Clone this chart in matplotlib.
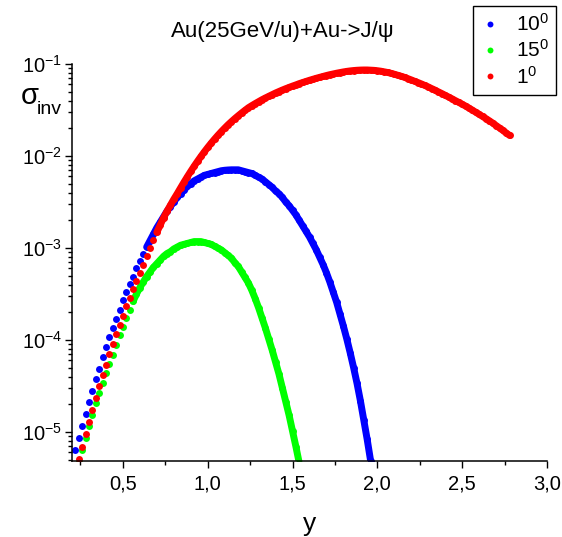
import matplotlib.pyplot as plt
import numpy as np
from matplotlib.ticker import FixedLocator, FuncFormatter, LogLocator, NullFormatter

plt.rcParams["font.family"] = ["Liberation Sans", "DejaVu Sans"]
plt.rcParams["mathtext.fontset"] = "custom"
plt.rcParams["mathtext.rm"] = "Liberation Sans"
plt.rcParams["mathtext.it"] = "Liberation Sans:italic"
plt.rcParams["mathtext.bf"] = "Liberation Sans:bold"

# rapidity grid (step 0.02) shared by the three series
rapidity = [
    0.22, 0.24, 0.26, 0.28, 0.30, 0.32, 0.34, 0.36, 0.38, 0.40,
    0.42, 0.44, 0.46, 0.48, 0.50, 0.52, 0.54, 0.56, 0.58, 0.60,
    0.62, 0.64, 0.66, 0.68, 0.70, 0.72, 0.74, 0.76, 0.78, 0.80,
    0.82, 0.84, 0.86, 0.88, 0.90, 0.92, 0.94, 0.96, 0.98, 1.00,
    1.02, 1.04, 1.06, 1.08, 1.10, 1.12, 1.14, 1.16, 1.18, 1.20,
    1.22, 1.24, 1.26, 1.28, 1.30, 1.32, 1.34, 1.36, 1.38, 1.40,
    1.42, 1.44, 1.46, 1.48, 1.50, 1.52, 1.54, 1.56, 1.58, 1.60,
    1.62, 1.64, 1.66, 1.68, 1.70, 1.72, 1.74, 1.76, 1.78, 1.80,
    1.82, 1.84, 1.86, 1.88, 1.90, 1.92, 1.94, 1.96, 1.98, 2.00,
    2.02, 2.04, 2.06, 2.08, 2.10, 2.12, 2.14, 2.16, 2.18, 2.20,
    2.22, 2.24, 2.26, 2.28, 2.30, 2.32, 2.34, 2.36, 2.38, 2.40,
    2.42, 2.44, 2.46, 2.48, 2.50, 2.52, 2.54, 2.56, 2.58, 2.60,
    2.62, 2.64, 2.66, 2.68, 2.70, 2.72, 2.74, 2.76, 2.78,
]

# log10(sigma_inv), 10 deg: y = 0.22 ... 1.98
log_sigma_10 = [
    -5.20, -5.07, -4.93, -4.80, -4.67, -4.55, -4.42, -4.31, -4.19, -4.08,
    -3.97, -3.87, -3.77, -3.67, -3.57, -3.48, -3.39, -3.31, -3.22, -3.14,
    -3.06, -2.99, -2.92, -2.85, -2.78, -2.72, -2.66, -2.60, -2.55, -2.50,
    -2.45, -2.41, -2.37, -2.33, -2.30, -2.27, -2.25, -2.23, -2.21, -2.20,
    -2.19, -2.18, -2.17, -2.16, -2.155, -2.152, -2.15, -2.15, -2.15, -2.16,
    -2.17, -2.18, -2.19, -2.21, -2.23, -2.25, -2.28, -2.31, -2.34, -2.38,
    -2.41, -2.45, -2.50, -2.54, -2.59, -2.64, -2.70, -2.76, -2.82, -2.88,
    -2.95, -3.02, -3.10, -3.18, -3.27, -3.37, -3.48, -3.59, -3.72, -3.85,
    -3.99, -4.14, -4.30, -4.47, -4.66, -4.87, -5.08, -5.31, -5.55,
]

# 15 deg: y = 0.24 ... 1.54
log_sigma_15 = [
    -5.33, -5.20, -5.06, -4.94, -4.81, -4.69, -4.58, -4.47, -4.36, -4.26,
    -4.16, -4.05, -3.95, -3.86, -3.76, -3.67, -3.58, -3.50, -3.43, -3.37,
    -3.31, -3.26, -3.21, -3.17, -3.13, -3.09, -3.06, -3.04, -3.01, -2.99,
    -2.97, -2.96, -2.95, -2.94, -2.93, -2.93, -2.93, -2.94, -2.95, -2.96,
    -2.98, -3.00, -3.02, -3.05, -3.08, -3.11, -3.16, -3.20, -3.26, -3.32,
    -3.38, -3.46, -3.55, -3.65, -3.76, -3.87, -3.99, -4.11, -4.24, -4.37,
    -4.52, -4.67, -4.82, -4.99, -5.16, -5.34,
]

# 1 deg: y = 0.24 ... 2.78
log_sigma_1 = [
    -5.29, -5.16, -5.02, -4.89, -4.76, -4.63, -4.505, -4.385, -4.27, -4.15,
    -4.04, -3.935, -3.835, -3.735, -3.635, -3.54, -3.45, -3.36, -3.27, -3.18,
    -3.09, -3.00, -2.915, -2.83, -2.75, -2.67, -2.60, -2.535, -2.47, -2.41,
    -2.347, -2.285, -2.225, -2.167, -2.111, -2.057, -2.005, -1.955, -1.907, -1.861,
    -1.817, -1.775, -1.735, -1.697, -1.660, -1.626, -1.593, -1.562, -1.532, -1.503,
    -1.475, -1.452, -1.430, -1.409, -1.388, -1.369, -1.351, -1.333, -1.315, -1.299,
    -1.283, -1.268, -1.254, -1.240, -1.227, -1.213, -1.201, -1.189, -1.177, -1.166,
    -1.155, -1.145, -1.135, -1.125, -1.116, -1.108, -1.100, -1.093, -1.086, -1.080,
    -1.075, -1.071, -1.068, -1.066, -1.065, -1.065, -1.067, -1.069, -1.073, -1.078,
    -1.085, -1.092, -1.101, -1.111, -1.122, -1.133, -1.145, -1.159, -1.173, -1.188,
    -1.202, -1.217, -1.233, -1.249, -1.267, -1.284, -1.303, -1.321, -1.340, -1.359,
    -1.378, -1.398, -1.417, -1.437, -1.457, -1.479, -1.501, -1.524, -1.547, -1.570,
    -1.593, -1.617, -1.642, -1.669, -1.695, -1.722, -1.750, -1.777,
]

# label, index of first grid point, values, colour, rapidity where the dots merge
series = [
    (r"$\mathregular{10^0}$", 0, log_sigma_10, "#0000ff", 0.64),
    (r"$\mathregular{15^0}$", 1, log_sigma_15, "#00ff00", 0.56),
    (r"$\mathregular{1^0}$", 1, log_sigma_1, "#ff0000", 0.70),
]

x_major = [0.5, 1.0, 1.5, 2.0, 2.5, 3.0]
x_minor = [0.25, 0.75, 1.25, 1.75, 2.25, 2.75]

W, H = 562, 537
fig = plt.figure(figsize=(W / 100, H / 100), dpi=100)
ax = fig.add_axes([72 / W, 1 - 461 / H, (547 - 72) / W, (461 - 64) / H])

for label, start, logs, color, merge in series:
    xs = np.array(rapidity[start:start + len(logs)])
    ys = 10 ** np.array(logs)
    dense = xs >= merge
    ax.plot(xs[dense], ys[dense], "-", color=color, lw=5.0, solid_capstyle="round")
    ax.plot(xs, ys, "o", color=color, ms=5.0, mew=0, label=label)

ax.set_yscale("log")
ax.set_xlim(0.2, 3.0)
ax.set_ylim(10 ** -5.315, 0.1)

ax.xaxis.set_major_locator(FixedLocator(x_major))
ax.xaxis.set_minor_locator(FixedLocator(x_minor))
ax.xaxis.set_major_formatter(FuncFormatter(lambda v, _: f"{v:.1f}".replace(".", ",")))
ax.yaxis.set_major_locator(LogLocator(base=10, numticks=10))
ax.yaxis.set_minor_locator(LogLocator(base=10, subs=np.arange(2, 10), numticks=20))
ax.yaxis.set_minor_formatter(NullFormatter())

for side in ["top", "right"]:
    ax.spines[side].set_visible(False)
for side in ["left", "bottom"]:
    ax.spines[side].set_linewidth(1.1)
ax.tick_params(which="major", direction="out", length=5, width=1, labelsize=14.5)
ax.tick_params(which="minor", direction="out", length=3, width=1)
ax.tick_params(axis="x", which="major", pad=5)
ax.tick_params(axis="y", which="major", pad=2)

fig.text(283 / W, 1 - 37 / H, "Au(25GeV/u)+Au->J/ψ", ha="center", va="baseline", fontsize=16)
fig.text(21 / W, 1 - 104 / H, "σ", ha="left", va="baseline", fontsize=21)
fig.text(37 / W, 1 - 114 / H, "inv", ha="left", va="baseline", fontsize=14)
fig.text(309.5 / W, 1 - 531 / H, "y", ha="center", va="baseline", fontsize=19)

leg = ax.legend(loc="upper right", bbox_to_anchor=(556 / W, 1 - 6 / H),
                bbox_transform=fig.transFigure, fancybox=False, framealpha=1,
                edgecolor="black", fontsize=15, markerscale=0.85, handlelength=0.9,
                handletextpad=0.8, borderpad=0.35, labelspacing=0.2, borderaxespad=0)
leg.get_frame().set_linewidth(1.0)

fig.savefig("out.png", dpi=100)
